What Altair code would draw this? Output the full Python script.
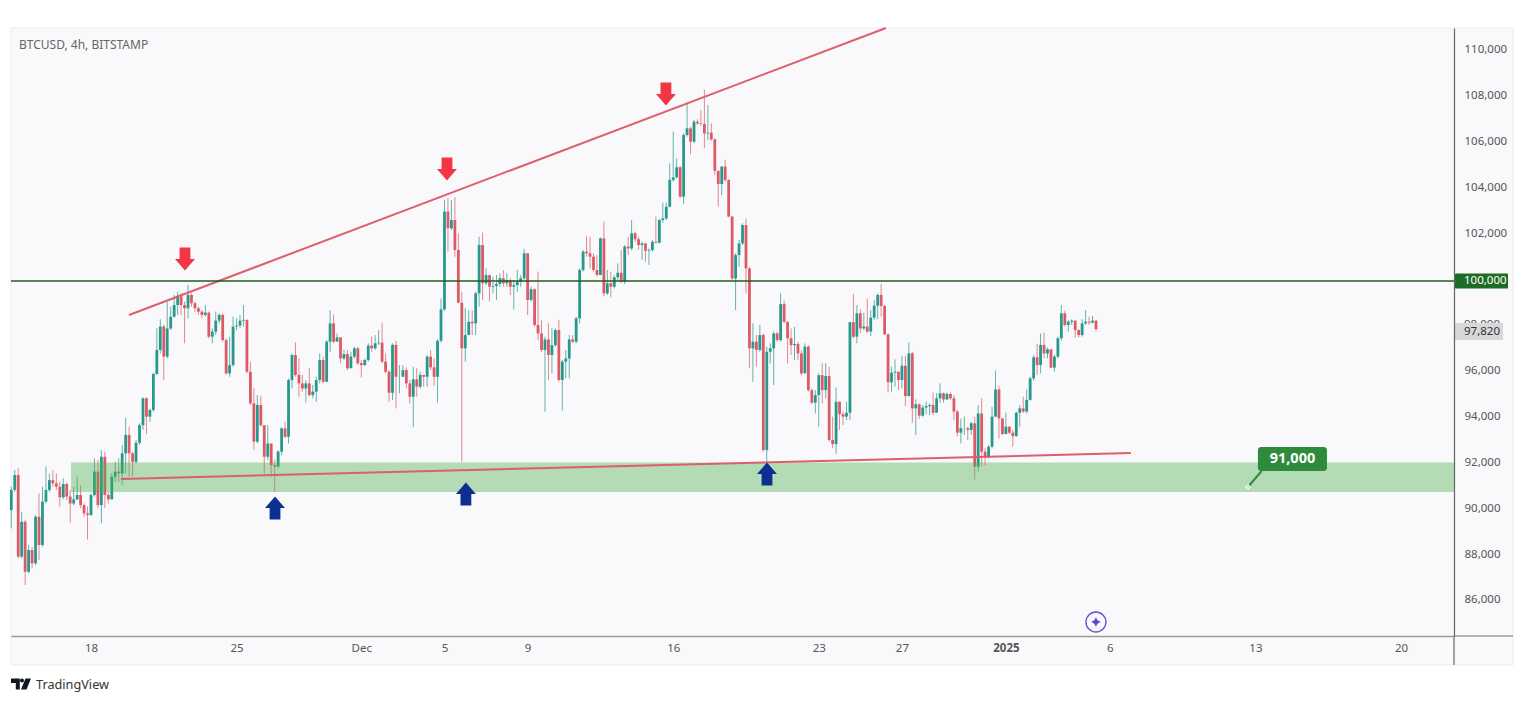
import altair as alt
import pandas as pd

# 4h candles, index 0 = 18 Nov 00:00
first_index = -23
first_open = 89920
closes = [
 90800,91450,87890,89410,87230,88180,87600,89630,88400,90290,90800,91230,91090,90940,90480,91060,90510,90210,90390,90580,
 90140,89780,89710,90580,91600,90140,92250,90580,90390,91380,91600,91520,92400,93200,92400,92030,92860,93630,94800,94000,
 94290,95860,96910,97930,96620,97850,98360,98870,99240,98870,98730,99310,98950,98730,98580,98440,98540,97490,97710,98190,
 98440,97340,95890,96250,97930,97970,98190,98220,95960,94580,92910,94510,93630,92250,92830,91890,91820,
 92470,93490,93120,95600,96690,95820,95450,95230,95450,94940,95090,95600,96470,95520,97270,98070,97270,97460,96540,96730,
 96110,96620,96980,96330,96250,96470,97100,96980,97200,97230,96400,95960,95040,97130,95740,95740,96030,95450,94870,95630,
 95310,95820,95740,96620,96150,95740,97310,98680,102950,102220,102580,101270,98970,96980,97560,98140,98070,99380,101490,99820,
 100180,99670,99700,99790,100040,99820,99960,99670,99740,99890,100040,101130,99090,99560,98000,97630,96910,97370,96690,
 97120,97780,95600,96400,96540,97370,97270,98290,100400,101200,101130,100980,100400,100180,101780,99380,99820,99670,100080,100280,
 99890,101420,101340,102000,101740,101490,101560,101240,101270,101630,101590,102580,102650,103160,104330,104440,104880,103600,106290,106580,
 106000,106870,106800,106770,106360,106390,106100,104730,104150,104910,104330,102730,100030,101050,101560,102360,100470,96980,97270,96910,
 97560,92540,96830,96980,97630,97340,98910,98140,97420,97120,97170,96760,95890,97050,95160,94610,94940,95810,
 95160,95770,92980,92800,94650,94110,94000,94170,98120,97490,98510,97850,97930,97710,98320,98840,99310,98830,97590,95500,
 95920,95960,95600,96220,94900,96760,94360,94540,94040,94400,94460,94510,94170,94800,95020,94750,94990,94800,94220,93300,
 93490,93490,93420,93710,91820,94140,92470,92250,92690,94000,95190,93920,93240,93560,93300,93150,94170,94360,94220,94730,
 95670,96590,96250,97130,96760,96940,96140,96620,97420,98510,98000,98140,98190,97780,97560,98070,98140,98100,98190,97820,
]
highs = [
 90940,91670,91740,89850,89490,88400,88320,89710,90650,90940,91820,91520,91670,91520,91160,91310,91120,90800,90940,91380,
 91020,90210,90070,90650,92180,92110,92540,92470,90720,91520,92030,92180,92760,93950,93560,92470,92980,93710,94840,94840,
 94360,95920,97850,98250,98000,99020,98800,99310,99450,99380,99020,99750,99380,99020,98800,98650,98870,98580,97850,98580,
 98510,98510,97420,97490,98360,98290,98440,98870,98250,96400,95230,94940,94900,93630,93630,92250,92110,
 92540,93530,93780,95670,96760,97240,96540,95820,95600,96110,95380,95740,96760,96620,97340,98650,98460,97630,97420,96910,
 96910,96830,97050,97050,96470,96540,97200,97490,97560,97780,98100,96760,96030,97200,97310,96250,96250,96150,95600,96180,
 96110,95960,95820,96690,96910,96540,97370,99160,103450,103530,103450,103570,102000,99450,98730,98650,98650,99450,101850,102030,
 100470,99740,100110,100180,100250,100400,100250,100040,99960,100400,100180,101320,101130,99670,99600,100330,98220,97490,98070,
 97850,97850,98220,96470,96910,97560,97560,98360,100470,101270,101880,101850,101130,101050,101820,102510,100400,100330,100180,100690,
 101270,101490,101850,102580,102070,101850,101630,101590,101340,101710,102730,102610,103340,103340,105050,106440,105270,104940,106360,107670,
 106650,106950,106970,107380,108260,107600,106800,106150,104650,104940,105200,104360,102760,101130,101710,102440,102650,100540,98070,97560,
 98000,97630,97050,97200,97710,97710,99380,99060,98140,97850,97920,97270,96880,97200,97120,95230,95160,95890,
 96330,96330,96180,94000,95280,94650,94220,94650,98140,99350,98870,98680,98540,99160,98650,99090,99380,99790,98870,97630,
 96180,96500,95960,96650,96650,97240,96830,94750,94580,94510,94650,94580,95050,95020,95450,95050,95050,95050,94940,94290,
 93920,94000,93560,93780,94000,94510,94800,92620,92760,94430,96010,95340,93920,94170,93590,93420,94220,94510,94870,95190,
 95740,96690,97170,97630,97660,97020,96940,96690,97490,98870,98620,98220,98250,98190,97810,98250,98650,98360,98390,98220,
]
lows = [
 89120,90720,87810,87810,86650,87160,87380,87520,87740,88320,90210,90720,90940,90800,90070,90390,90360,89370,90140,90360,
 90000,89630,88640,89660,90510,90000,89340,90000,90210,90390,91160,91160,91020,91520,91380,91380,91960,92760,93420,93240,
 93780,94220,95820,96760,95600,96540,97780,98330,98440,98440,97200,98290,98800,98580,98440,98290,98360,97420,97200,97560,
 98070,97270,95820,95740,96180,97780,97850,97930,95890,94510,92540,92830,93560,91520,92110,91380,90720,
 91740,92320,93050,92830,95230,95740,94870,95090,94610,94870,94800,94650,95450,95450,95520,96830,97200,97340,96330,96470,
 96030,96180,96540,96250,95710,96210,96400,96830,96910,97130,96330,95890,94650,94720,94360,95020,95740,95230,94580,93530,
 94870,95230,95310,95310,96030,95340,94610,97230,98620,101200,102140,100980,98940,92030,96400,97630,97560,97560,98800,99090,
 99740,99020,99380,99090,99670,99670,99670,99310,98680,99450,99670,99960,98430,99020,97930,97340,96830,94220,95600,
 95890,97050,95520,94260,95670,95670,97200,97200,98070,100330,100980,100470,100330,100110,100180,99260,99310,99200,99600,99890,
 99820,99790,101050,101270,101630,101270,100830,100760,100620,101200,101560,101560,102460,102580,103130,104250,104400,103530,103280,106220,
 105460,105930,106730,106680,105710,106070,106040,104540,103160,103670,104250,102700,99960,98650,100540,101490,99380,96110,95520,96180,
 96830,92470,92030,96320,95380,97270,97270,98070,96320,96690,96470,96470,95810,96110,95090,94550,94140,93560,
 94580,94800,92910,92620,92370,93420,93630,93850,93850,97420,97200,97640,97780,97660,97520,98220,98250,98360,97560,95050,
 95090,95310,95160,95230,94460,94870,93740,93200,93900,94000,94110,94070,94070,94170,94610,94610,94730,94730,93850,93150,
 92830,93200,92980,93200,91260,91600,91820,91890,92180,92620,94000,93050,93200,93240,93240,92690,93120,93560,94170,94140,
 94700,95570,95820,95890,96540,96540,96110,95960,96540,97320,97930,97710,98000,97450,97450,97490,98000,98000,98070,97710,
]

tick_days = [0, 7, 13, 17, 21, 28, 35, 39, 44, 49, 56, 63]
tick_names = ["18", "25", "Dec", "5", "9", "16", "23", "27", "2025", "6", "13", "20"]
price_ticks = [86000, 88000, 90000, 92000, 94000, 96000, 102000, 104000, 106000, 108000, 110000]

opens = [first_open] + closes[:-1]
df = pd.DataFrame({"i": range(first_index, first_index + len(closes)), "o": opens, "c": closes, "h": highs, "l": lows})
df["day"] = df["i"] / 6
df["dir"] = ["up" if c >= o else "down" for o, c in zip(df["o"], df["c"])]

X_DOM = [-3.847, 65.55]
Y_DOM = [84427, 110960]
xs = alt.Scale(domain=X_DOM, nice=False, zero=False)
ys = alt.Scale(domain=Y_DOM, nice=False, zero=False)
FONT = "Noto Sans"
label_expr = "{" + ",".join(f"'{d}':'{n}'" for d, n in zip(tick_days, tick_names)) + "}[datum.value]"
xaxis = alt.Axis(values=tick_days, labelExpr=label_expr, title=None, grid=False, ticks=False, labelPadding=6,
                 labelColor="#555555", labelFont=FONT, labelFontSize=11.5, domainColor="#9a9a9a", domainWidth=1.5,
                 labelFlush=False, labelOverlap=False, zindex=1,
                 labelFontWeight={"condition": {"test": "datum.value === 44", "value": "bold"}, "value": "normal"})
yaxis = alt.Axis(values=price_ticks, orient="right", labelExpr="format(datum.value, ',')", title=None, grid=False, ticks=False, labelPadding=10,
                 labelColor="#555555", labelFont=FONT, labelFontSize=11.5, domainColor="#666666", domainWidth=1.2,
                 labelFlush=False, labelOverlap=False, zindex=1)
X = lambda f="day": alt.X(f"{f}:Q", scale=xs, title=None)
Y = lambda f="p": alt.Y(f"{f}:Q", scale=ys, title=None)
cscale = alt.Scale(domain=["up", "down"], range=["#26998c", "#dc5a65"])
one = alt.Data(values=[{"a": 1}])

panel = alt.Chart(one).mark_rect(fill="#f9f9fb", stroke="#ececee", strokeWidth=1).encode(
    x=alt.value(0), x2=alt.value(1502), y=alt.value(0), y2=alt.value(637))

wicks = alt.Chart(df).mark_rule(strokeWidth=1, opacity=0.72).encode(
    x=alt.X("day:Q", scale=xs, axis=xaxis), y=alt.Y("h:Q", scale=ys, axis=yaxis), y2="l:Q",
    color=alt.Color("dir:N", scale=cscale, legend=None))
bodies = alt.Chart(df).mark_rule(strokeWidth=2.8).encode(
    x=X(), y=Y("o"), y2="c:Q", color=alt.Color("dir:N", scale=cscale, legend=None))

zone_df = pd.DataFrame({"x1": [-0.96], "x2": [65.55], "p1": [92000], "p2": [90710]})
zone = alt.Chart(zone_df).mark_rect(fill="#4caf50", opacity=0.4).encode(
    x=X("x1"), x2="x2:Q", y=Y("p1"), y2="p2:Q")

def seg(days, prices, color, width):
    d = pd.DataFrame({"day": days, "p": prices})
    return alt.Chart(d).mark_line(color=color, strokeWidth=width).encode(x=X(), y=Y())

upper = seg([1.83, 38.23], [98435, 110960], "#dc5f6b", 2)
lower = seg([1.44, 50.01], [91278, 92413], "#dc5f6b", 2)
level = seg(X_DOM, [99920, 99920], "#1b5e20", 1.5)
pointer = seg([55.64, 56.3], [90929, 91627], "#2e8b3c", 2)

DOWN = "M-0.45,-0.96L0.45,-0.96L0.45,0L0.83,0L0,0.96L-0.83,0L-0.45,0Z"
UP = "M-0.45,0.96L0.45,0.96L0.45,0L0.83,0L0,-0.96L-0.83,0L-0.45,0Z"
def arrows(days, prices, path, color):
    d = pd.DataFrame({"day": days, "p": prices})
    return alt.Chart(d).mark_point(shape=path, filled=True, fill=color, stroke=color, strokeWidth=0, opacity=1, size=576).encode(x=X(), y=Y())
red_arrows = arrows([4.52, 17.12, 27.65], [100879, 104807, 108080], DOWN, "#f23645")
blue_arrows = arrows([8.85, 18.03, 32.51], [90013, 90624, 91497], UP, "#0d2f91")

call_df = pd.DataFrame({"x1": [56.12], "x2": [59.44], "p1": [92675], "p2": [91627]})
call_box = alt.Chart(call_df).mark_rect(fill="#2e8b3c", cornerRadius=3).encode(x=X("x1"), x2="x2:Q", y=Y("p1"), y2="p2:Q")
call_text = alt.Chart(pd.DataFrame({"day": [57.78], "p": [92150], "t": ["91,000"]})).mark_text(
    color="white", font=FONT, fontSize=14.5, fontWeight="bold").encode(x=X(), y=Y(), text="t:N")
anchor = alt.Chart(pd.DataFrame({"day": [55.64], "p": [90929]})).mark_point(
    shape="diamond", size=26, fill="#c8e6c9", stroke="white", strokeWidth=1, filled=False, opacity=1).encode(x=X(), y=Y())

circle = alt.Chart(pd.DataFrame({"day": [48.33], "p": [85038]})).mark_point(
    shape="circle", size=400, stroke="#6a55c8", strokeWidth=1.4, filled=False, opacity=1).encode(x=X(), y=Y())
STAR = "M0,-1Q0.15,-0.15,1,0Q0.15,0.15,0,1Q-0.15,0.15,-1,0Q-0.15,-0.15,0,-1Z"
star = alt.Chart(pd.DataFrame({"day": [48.33], "p": [85038]})).mark_point(
    shape=STAR, size=110, fill="#5b44d6", strokeWidth=0, filled=True, opacity=1).encode(x=X(), y=Y())

# price scale: hidden 98,000 label, then the two value badges
tick98 = alt.Chart(pd.DataFrame({"p": [98000], "t": ["98,000"]})).mark_text(
    align="left", color="#555555", font=FONT, fontSize=11.5).encode(x=alt.value(1453), y=Y(), text="t:N")
def badge(p1, p2, right, fill):
    return alt.Chart(pd.DataFrame({"p1": [p1], "p2": [p2]})).mark_rect(fill=fill, cornerRadius=1).encode(
        x=alt.value(1444), x2=alt.value(right), y=Y("p1"), y2="p2:Q")
badge100 = badge(100250, 99590, 1497, "#1e6b25")
badge97 = badge(98090, 97340, 1492, "#d8d8da")
def badge_text(p, t, color):
    return alt.Chart(pd.DataFrame({"p": [p], "t": [t]})).mark_text(align="left", color=color, font=FONT, fontSize=11.5).encode(
        x=alt.value(1453), y=Y(), text="t:N")
text100 = badge_text(99920, "100,000", "white")
text97 = badge_text(97700, "97,820", "#333333")

right_ext = alt.Chart(one).mark_rule(color="#666666", strokeWidth=1.2).encode(x=alt.value(1443), y=alt.value(608), y2=alt.value(637))
bottom_ext = alt.Chart(one).mark_rule(color="#9a9a9a", strokeWidth=1.5).encode(x=alt.value(1443), x2=alt.value(1502), y=alt.value(608))

symbol = alt.Chart(pd.DataFrame({"t": ["BTCUSD, 4h, BITSTAMP"]})).mark_text(
    align="left", color="#666666", font=FONT, fontSize=12).encode(x=alt.value(8), y=alt.value(17), text="t:N")
LOGO = ("M-1,-0.55L-0.12,-0.55L-0.12,0.55L-0.52,0.55L-0.52,-0.1L-1,-0.1Z"
        "M0.1,-0.55A0.2,0.2,0,1,1,0.1,-0.15A0.2,0.2,0,1,1,0.1,-0.55Z"
        "M0.45,-0.55L1,-0.55L0.55,0.55L0,0.55Z")
logo = alt.Chart(one).mark_point(shape=LOGO, size=400, fill="#131722", strokeWidth=0, filled=True, opacity=1).encode(
    x=alt.value(10), y=alt.value(656))
brand = alt.Chart(pd.DataFrame({"t": ["TradingView"]})).mark_text(
    align="left", color="#333333", font=FONT, fontSize=12.7).encode(x=alt.value(25), y=alt.value(656.5), text="t:N")

chart = alt.layer(
    panel, wicks, bodies, zone, upper, lower, level, red_arrows, blue_arrows,
    pointer, anchor, call_box, call_text, circle, star,
    tick98, badge100, badge97, text100, text97, right_ext, bottom_ext, symbol, logo, brand,
).properties(
    width=1443, height=608,
    padding={"left": 0, "top": 16, "right": 0, "bottom": 0},
    background="white",
).configure_view(stroke=None)

chart.save("out.html", embed_options={"renderer": "svg", "actions": False})
